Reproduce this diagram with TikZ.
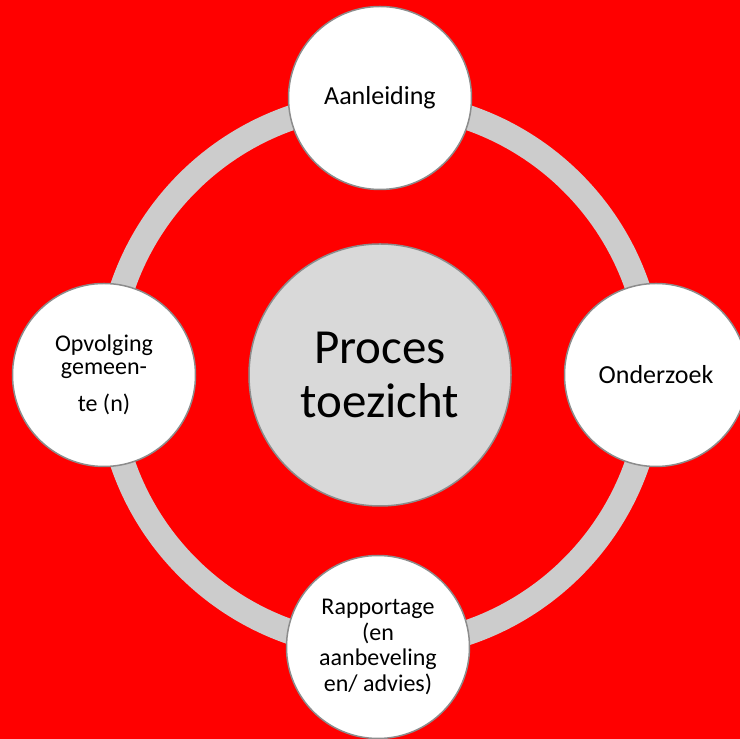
\documentclass[tikz,border=0pt]{standalone}
\usepackage{fontspec}
\setmainfont{Carlito}
\definecolor{bgred}{HTML}{FF0000}
\definecolor{ringgray}{HTML}{CCCCCC}
\definecolor{hubgray}{HTML}{D9D9D9}
\definecolor{edgegray}{HTML}{8C8C8C}
\tikzset{
    stage/.style={circle, draw=edgegray, line width=1.5pt, fill=white,
        minimum size=183pt, inner sep=0pt, align=center,
        font=\fontsize{26}{26}\selectfont},
    smallstage/.style={stage, font=\fontsize{24}{25.7}\selectfont},
    hub/.style={stage, fill=hubgray, minimum size=262pt,
        font=\fontsize{49}{54}\selectfont}
}
\begin{document}
\begin{tikzpicture}[x=1pt, y=1pt]
    % Background
    \fill [bgred] (0,0) rectangle (740,739);
    \useasboundingbox (0,0) rectangle (740,739);
    \clip (0,0) rectangle (740,739);
    % Ring
    \draw [ringgray, line width=25pt] (380,364) circle (272pt);
    % Circles
    \node [hub] (hub) at (380,364) {Proces\\toezicht};
    \node [stage] (aanleiding) at (380,641) {Aanleiding};
    \node [stage] (onderzoek) at (656,364) {Onderzoek};
    \node [smallstage] (rapportage) at (378,92)
        {Rapportage\\(en\\aanbeveling\\en/ advies)};
    \node [smallstage, font=\fontsize{24}{22.5}\selectfont] (opvolging) at (104,364)
        {Opvolging\\gemeen-\\[15pt]te (n)};
\end{tikzpicture}
\end{document}
